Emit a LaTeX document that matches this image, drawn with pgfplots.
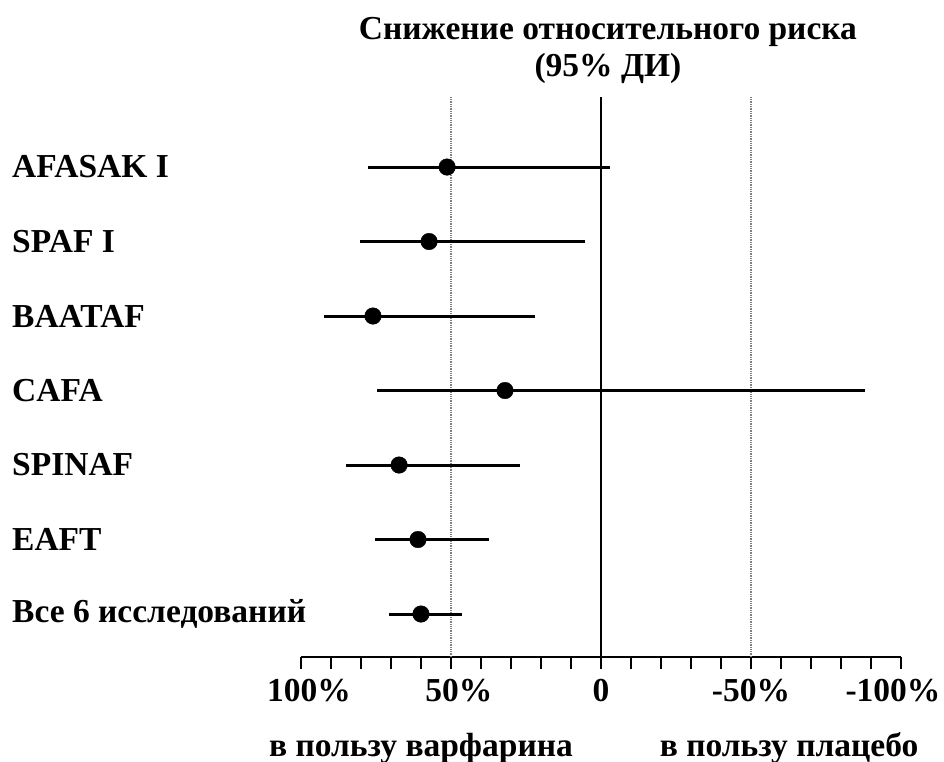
\documentclass[border=0pt]{standalone}
\usepackage{fontspec}
\setmainfont{Liberation Serif}
\usepackage{pgfplots}
\usepackage{pgfplotstable}
\pgfplotsset{compat=1.18}
% row y: 7 = top (AFASAK I) ... 1 = bottom (all 6)
\pgfplotstableread{
y  est   ep     em
7  51.3  26.4   54.3
6  57.3  23.0   52.0
5  76.0  16.3   54.0
4  32.0  42.7   120.0
3  67.3  17.7   40.3
2  61.0  14.3   23.7
1  60.0  10.7   13.7
}\ci
\newcommand{\lbl}{\fontsize{33.5}{37}\selectfont\bfseries}
\begin{document}
\begin{tikzpicture}[x=1pt,y=1pt]
\useasboundingbox (0,0) rectangle (944,-762);
\begin{axis}[
  at={(601pt,-377pt)}, anchor=center,
  width=600pt, height=560pt, scale only axis,
  x dir=reverse,
  xmin=-100, xmax=100, ymin=0.423, ymax=7.94,
  axis x line=bottom, axis y line=none,
  x axis line style={-, line width=2pt},
  xtick={-100,-50,0,50,100},
  xticklabels={{\kern-16pt-100\%},-50\%,0,{50\%\kern-16pt},{100\%\kern-16pt}},
  minor x tick num=4,
  tick align=outside,
  major tick length=12pt, minor tick length=12pt,
  every tick/.style={black, line width=1.8pt},
  xticklabel style={font=\lbl, yshift=-7pt},
  clip=false,
]
\addplot[gray, densely dotted, line width=1.3pt] coordinates {(50,0.423) (50,7.94)};
\addplot[gray, densely dotted, line width=1.3pt] coordinates {(-50,0.423) (-50,7.94)};
\addplot[black, line width=2.2pt] coordinates {(0,0.423) (0,7.94)};
\addplot[black, only marks, mark=*, mark size=8.3pt,
  error bars/.cd, x dir=both, x explicit, error mark=none,
  error bar style={line width=3pt}]
  table[x=est, y=y, x error plus=ep, x error minus=em] {\ci};
\begin{scope}[every node/.style={anchor=west, inner sep=0pt, font=\lbl}]
\node at (axis cs:196.33,7) {AFASAK I};
\node at (axis cs:196.33,6) {SPAF I};
\node at (axis cs:196.33,5) {BAATAF};
\node at (axis cs:196.33,4) {CAFA};
\node at (axis cs:196.33,3) {SPINAF};
\node at (axis cs:196.33,2) {EAFT};
\node at (axis cs:196.33,1) {Все 6 исследований};
\end{scope}
\node[font=\lbl, align=center, inner sep=0pt] at (axis cs:-2.33,8.56) {Снижение относительного риска\\(95\% ДИ)};
\node[font=\lbl, inner sep=0pt] at (axis cs:60,-0.799) {в пользу варфарина};
\node[font=\lbl, inner sep=0pt] at (axis cs:-62.7,-0.799) {в пользу плацебо};
\end{axis}
\end{tikzpicture}
\end{document}
